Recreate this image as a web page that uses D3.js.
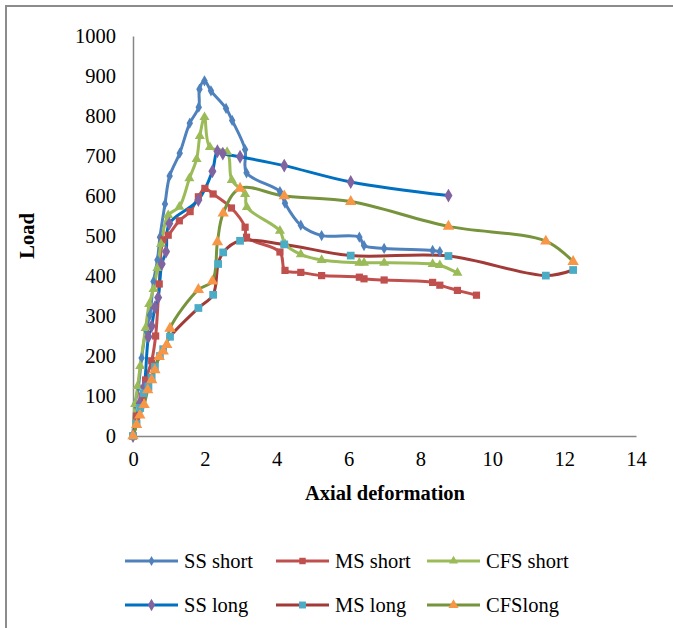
<!DOCTYPE html>
<html>
<head>
<meta charset="utf-8">
<script src="https://cdn.jsdelivr.net/npm/d3@7"></script>
<style>
  html, body { margin: 0; padding: 0; background: #fff; }
  svg { display: block; }
  text { font-family: "Liberation Serif", "Times New Roman", serif; fill: #000; }
</style>
</head>
<body>
<svg id="chart" width="673" height="628"></svg>
<script>
// Load vs axial deformation, [deformation, load] pairs per specimen
const ssShort = [[0,0],[0.06,80],[0.15,123],[0.24,195],[0.36,265],[0.47,302],[0.57,386],[0.68,440],[0.75,497],[0.89,580],[1.02,650],[1.30,707],[1.58,782],[1.83,822],[1.85,867],[1.99,888],[2.17,863],[2.59,819],[2.76,789],[3.12,716],[3.16,658],[4.09,611],[4.23,582],[4.67,527],[5.25,501],[6.30,497],[6.43,476],[6.99,469],[8.34,464],[8.54,461]];
const msShort = [[0,0],[0.10,50],[0.25,100],[0.35,140],[0.52,188],[0.63,250],[0.73,380],[0.84,490],[0.98,502],[1.29,538],[1.59,561],[1.82,598],[2.00,619],[2.23,605],[2.74,570],[3.12,522],[3.16,497],[4.09,460],[4.23,414],[4.67,409],[5.25,401],[6.30,397],[6.43,393],[6.99,390],[8.34,384],[8.54,377],[9.03,364],[9.56,352]];
const cfsShort = [[0,0],[0.06,80],[0.13,125],[0.20,175],[0.35,270],[0.45,330],[0.57,367],[0.68,420],[0.78,480],[0.98,552],[1.29,573],[1.57,644],[1.77,692],[1.86,750],[1.99,797],[2.14,722],[2.62,710],[2.75,640],[3.12,605],[3.17,572],[4.09,513],[4.23,480],[4.67,454],[5.25,440],[6.30,433],[6.43,433],[6.99,433],[8.34,430],[8.54,427],[9.03,408]];
const ssLong = [[0,0],[0.19,82],[0.31,123],[0.43,248],[0.52,275],[0.61,322],[0.70,346],[0.80,430],[0.92,461],[1.01,531],[1.82,590],[2.21,662],[2.35,712],[2.50,706],[2.98,698],[4.21,676],[6.06,635],[8.78,601]];
const msLong = [[0,0],[0.10,30],[0.20,70],[0.29,107],[0.43,123],[0.52,146],[0.61,173],[0.75,200],[0.84,217],[1.03,248],[1.82,320],[2.23,353],[2.37,430],[2.51,459],[2.98,488],[4.21,479],[6.06,451],[8.78,450],[11.49,401],[12.25,415]];
const cfsLong = [[0,0],[0.10,28],[0.19,52],[0.31,78],[0.41,115],[0.52,140],[0.61,165],[0.73,198],[0.84,212],[0.94,228],[1.03,269],[1.82,366],[2.21,387],[2.35,485],[2.51,557],[2.98,619],[4.21,600],[6.06,586],[8.78,524],[11.49,487],[12.25,436]];

const seriesNames = ["SS short", "MS short", "CFS short", "SS long", "MS long", "CFSlong"];
const xTicks = [0, 2, 4, 6, 8, 10, 12, 14];
const yTicks = [0, 100, 200, 300, 400, 500, 600, 700, 800, 900, 1000];

const series = [
  { name: seriesNames[0], data: ssShort,  line: "#4F81BD", fill: "#4F81BD", shape: d3.symbolDiamond, size: 36 },
  { name: seriesNames[1], data: msShort,  line: "#C0504D", fill: "#C0504D", shape: d3.symbolSquare,  size: 52 },
  { name: seriesNames[2], data: cfsShort, line: "#9BBB59", fill: "#9BBB59", shape: d3.symbolTriangle, size: 44 },
  { name: seriesNames[3], data: ssLong,   line: "#0070C0", fill: "#8064A2", shape: d3.symbolDiamond, size: 56 },
  { name: seriesNames[4], data: msLong,   line: "#A23B38", fill: "#4BACC6", shape: d3.symbolSquare,  size: 60 },
  { name: seriesNames[5], data: cfsLong,  line: "#77933C", fill: "#F79646", shape: d3.symbolTriangle, size: 56 }
];

const svg = d3.select("#chart");

// outer frame
svg.append("path")
  .attr("d", "M6,628 V6 H673")
  .attr("fill", "none").attr("stroke", "#8c8c8c").attr("stroke-width", 2);

const x = d3.scaleLinear().domain([0, 14]).range([133, 636]);
const y = d3.scaleLinear().domain([0, 1000]).range([436, 36]);

// axes
const yAxis = svg.append("g").attr("transform", "translate(133,0)")
  .call(d3.axisLeft(y).tickValues(yTicks).tickSize(0).tickPadding(17).tickFormat(d3.format("d")));
const xAxis = svg.append("g").attr("transform", "translate(0,436)")
  .call(d3.axisBottom(x).tickValues(xTicks).tickSize(0).tickPadding(15).tickFormat(d3.format("d")));
[yAxis, xAxis].forEach(g => {
  g.select(".domain").attr("stroke", "#868686").attr("stroke-width", 1.5);
  g.selectAll("text").style("font-family", "'Liberation Serif', 'Times New Roman', serif").style("font-size", "20.5px").attr("fill", "#000");
});

// axis titles
svg.append("text").attr("x", 385).attr("y", 500).attr("text-anchor", "middle")
  .style("font-size", "20.5px").style("font-weight", "bold").text("Axial deformation");
svg.append("text").attr("transform", "translate(34,236) rotate(-90)").attr("text-anchor", "middle")
  .style("font-size", "20.5px").style("font-weight", "bold").text("Load");

// smoothed series lines and markers
const line = d3.line().x(d => x(d[0])).y(d => y(d[1])).curve(d3.curveCatmullRom.alpha(0.5));
const plot = svg.append("g");
series.forEach(s => {
  plot.append("path").datum(s.data).attr("d", line)
    .attr("fill", "none").attr("stroke", s.line).attr("stroke-width", 3)
    .attr("stroke-linejoin", "round").attr("stroke-linecap", "round");
});
series.forEach(s => {
  const sym = d3.symbol().type(s.shape).size(s.size);
  plot.append("g").selectAll("path").data(s.data).join("path")
    .attr("transform", d => `translate(${x(d[0])},${y(d[1])})`)
    .attr("d", sym).attr("fill", s.fill);
});

// legend: three columns, two rows
const legendCols = [125, 276, 427];
const legendRows = [561, 605];
series.forEach((s, i) => {
  const lx = legendCols[i % 3], ly = legendRows[Math.floor(i / 3)];
  const g = svg.append("g").attr("transform", `translate(${lx},${ly})`);
  g.append("line").attr("x1", 0).attr("x2", 53).attr("y1", 0).attr("y2", 0)
    .attr("stroke", s.line).attr("stroke-width", 3);
  g.append("path").attr("transform", "translate(26.5,0)")
    .attr("d", d3.symbol().type(s.shape).size(s.size * 0.8)).attr("fill", s.fill);
  g.append("text").attr("x", 59).attr("y", 7).style("font-size", "20.5px").text(s.name);
});
</script>
</body>
</html>
